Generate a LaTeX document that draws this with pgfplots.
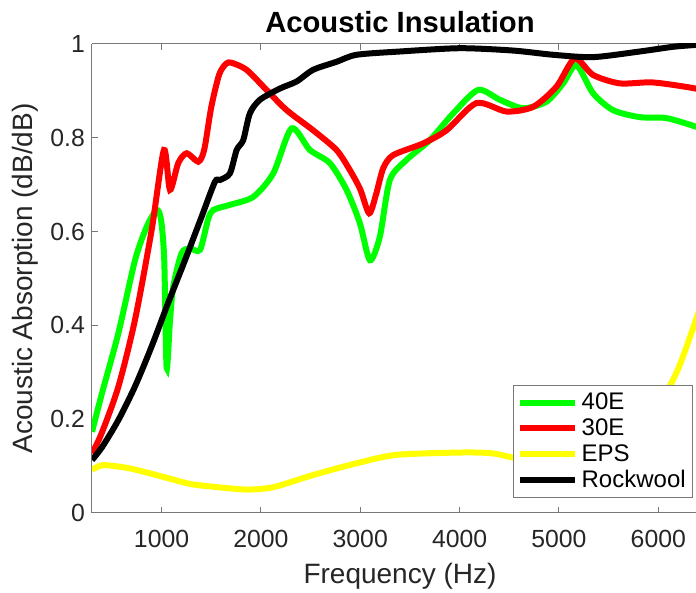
\documentclass[border=0pt]{standalone}
\usepackage{pgfplots}
\pgfplotsset{compat=1.18}
\usepackage{fontspec}
\setmainfont{Liberation Sans}
\definecolor{txt}{RGB}{38,38,38}
\definecolor{ax}{RGB}{120,120,120}
\begin{document}
\begin{tikzpicture}
\begin{axis}[
  at={(46pt,40pt)}, anchor=south west,
  scale only axis, width=308pt, height=234.5pt,
  xmin=300, xmax=6500, ymin=0, ymax=1,
  xtick={1000,2000,3000,4000,5000,6000},
  ytick={0,0.2,0.4,0.6,0.8,1},
  yticklabels={0,0.2,0.4,0.6,0.8,1},
  scaled x ticks=false,
  xticklabel style={/pgf/number format/1000 sep={}, yshift=-5pt},
  /pgf/number format/assume math mode=true,
  tick label style={font=\fontsize{12.4}{14}\selectfont, text=txt},
  axis line style={ax, line width=0.5pt},
  tick style={ax, line width=0.5pt},
  tick align=inside, major tick length=3pt,
  axis x line*=box, axis y line*=left,
  xlabel={Frequency (Hz)},
  ylabel={Acoustic Absorption (dB/dB)},
  label style={font=\fontsize{14}{16}\selectfont, text=txt},
  xlabel style={at={(axis description cs:0.5,-0.1358)}, anchor=center},
  ylabel style={at={(axis description cs:-0.1088,0.5)}, anchor=center},
  clip mode=individual,
  legend style={at={(axis description cs:0.976,0.032)}, anchor=south east,
    font=\fontsize{12}{14}\selectfont, draw=ax, line width=0.5pt, inner sep=1.5pt,
    row sep=-1pt, cells={anchor=west}},
  legend image code/.code={\draw[#1] (0pt,0pt) -- (27.5pt,0pt);},
  every axis plot/.append style={line width=3pt, smooth, tension=0.45},
]
\addplot[color={rgb,255:red,0;green,255;blue,0}] coordinates {
(300,0.173) (400,0.255) (565,0.383) (733,0.539) (850,0.61) (951,0.646) (995,0.625) (1027,0.54) (1051,0.309) (1085,0.41) (1118,0.483) (1202,0.554) (1286,0.564) (1387,0.561) (1467,0.625) (1520,0.646) (1688,0.657) (1923,0.674) (2124,0.724) (2309,0.820) (2493,0.774) (2694,0.746) (2862,0.689) (2996,0.618) (3097,0.539) (3197,0.589) (3298,0.710) (3466,0.753) (3700,0.795) (3935,0.852) (4186,0.902) (4405,0.881) (4639,0.863) (4874,0.877) (5042,0.916) (5176,0.955) (5343,0.895) (5544,0.859) (5813,0.844) (6081,0.842) (6376,0.824) (6500,0.815)
};
\addlegendentry{40E}
\addplot[color={rgb,255:red,255;green,0;blue,0}] coordinates {
(300,0.127) (397,0.17) (565,0.269) (733,0.412) (900,0.603) (1024,0.774) (1085,0.689) (1168,0.746) (1253,0.767) (1370,0.749) (1430,0.775) (1500,0.865) (1580,0.935) (1650,0.958) (1705,0.960) (1856,0.945) (2057,0.902) (2259,0.859) (2526,0.816) (2761,0.774) (2896,0.731) (3000,0.69) (3090,0.639) (3160,0.68) (3231,0.735) (3331,0.763) (3633,0.788) (3868,0.816) (4170,0.874) (4472,0.856) (4740,0.866) (4975,0.909) (5159,0.969) (5343,0.934) (5612,0.916) (5947,0.918) (6376,0.905) (6500,0.895)
};
\addlegendentry{30E}
\addplot[color={rgb,255:red,255;green,255;blue,0}] coordinates {
(300,0.092) (414,0.102) (682,0.095) (1017,0.077) (1286,0.062) (1520,0.056) (1856,0.050) (2124,0.055) (2526,0.081) (2963,0.106) (3365,0.124) (4035,0.129) (4337,0.127) (4573,0.117) (4900,0.115) (5300,0.13) (5700,0.17) (6000,0.23) (6195,0.305) (6376,0.41) (6500,0.49)
};
\addlegendentry{EPS}
\addplot[color=black] coordinates {
(300,0.113) (400,0.14) (565,0.198) (733,0.27) (900,0.355) (1070,0.45) (1236,0.539) (1400,0.63) (1537,0.706) (1588,0.710) (1688,0.724) (1756,0.774) (1822,0.795) (1889,0.852) (1990,0.881) (2191,0.905) (2359,0.920) (2526,0.945) (2761,0.962) (2963,0.977) (3399,0.984) (4002,0.991) (4539,0.986) (4941,0.977) (5343,0.972) (5813,0.984) (6148,0.994) (6376,0.998) (6500,1.0)
};
\addlegendentry{Rockwool}
\node[font=\bfseries\fontsize{14.6}{16}\selectfont, anchor=center] at (axis description cs:0.5,1.047) {Acoustic Insulation};
\end{axis}
\pgfresetboundingbox
\useasboundingbox (0,0) rectangle (348pt,296.5pt);
\end{tikzpicture}
\end{document}
